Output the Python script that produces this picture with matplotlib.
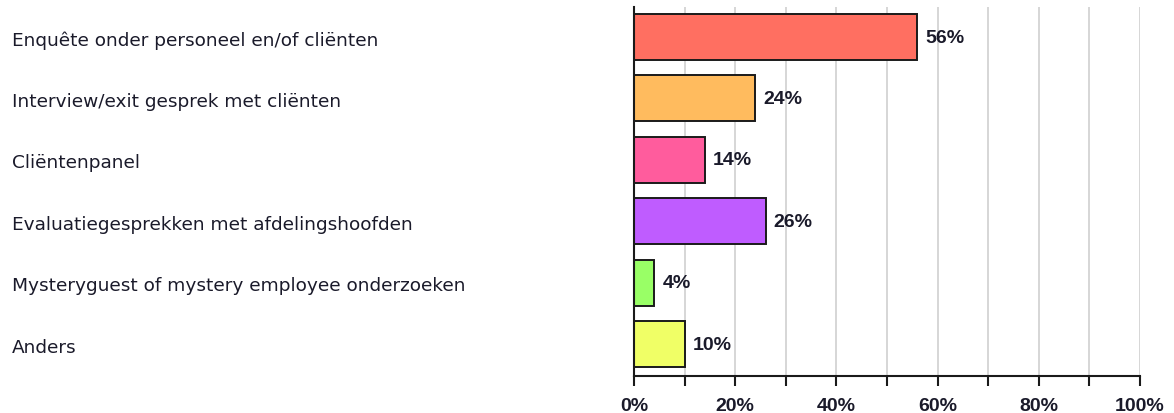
import matplotlib.pyplot as plt
import matplotlib.transforms as mtransforms
import matplotlib.ticker as mtick

plt.rcParams['font.family'] = ['Liberation Sans', 'DejaVu Sans']

categorieen = [
    'Enquête onder personeel en/of cliënten',
    'Interview/exit gesprek met cliënten',
    'Cliëntenpanel',
    'Evaluatiegesprekken met afdelingshoofden',
    'Mysteryguest of mystery employee onderzoeken',
    'Anders',
]
percentages = [56, 24, 14, 26, 4, 10]
kleuren = ['#ff6f61', '#ffbb5e', '#ff5c9d', '#bf5cff', '#99ff66', '#f0ff66']
x_ticks = [0, 20, 40, 60, 80, 100]

fig = plt.figure(figsize=(11.74, 4.14), dpi=100)
ax = fig.add_axes([0.540, 0.0894, 0.431, 0.8913])

posities = range(len(categorieen))
ax.barh(posities, percentages, height=0.75, color=kleuren,
        edgecolor='#1a1a1a', linewidth=1.4, zorder=3)

for y, v in zip(posities, percentages):
    ax.text(v + 1.6, y, f'{v}%', va='center', ha='left',
            fontsize=14, fontweight='bold', color='#1a1a2a', zorder=4)

# categorie-labels links uitgelijnd in figuurcoordinaten
trans = mtransforms.blended_transform_factory(fig.transFigure, ax.transData)
for y, naam in zip(posities, categorieen):
    ax.text(0.0102, y + 0.04, naam, transform=trans, va='center', ha='left',
            fontsize=13.3, color='#1a1a2a', family=['DejaVu Sans'])

ax.set_xlim(0, 100)
ax.set_ylim(5.52, -0.49)
ax.set_yticks([])
ax.set_xticks(x_ticks)
ax.set_xticks(range(0, 101, 10), minor=True)
ax.xaxis.set_major_formatter(mtick.FormatStrFormatter('%d%%'))
ax.tick_params(axis='x', which='both', direction='out', length=7, width=1.5,
               color='#1a1a1a')
ax.tick_params(axis='x', which='major', pad=8, labelsize=14)
for lbl in ax.get_xticklabels():
    lbl.set_fontweight('bold')
    lbl.set_color('#1a1a2a')

ax.grid(True, axis='x', which='both', color='#d0d0d0', linewidth=1.2, zorder=0)
ax.spines['top'].set_visible(False)
ax.spines['right'].set_visible(False)
ax.spines['left'].set_linewidth(1.5)
ax.spines['bottom'].set_linewidth(1.5)
ax.spines['left'].set_color('#1a1a1a')
ax.spines['bottom'].set_color('#1a1a1a')
ax.spines['left'].set_zorder(5)
ax.spines['bottom'].set_zorder(5)

fig.savefig('out.png', dpi=100)
